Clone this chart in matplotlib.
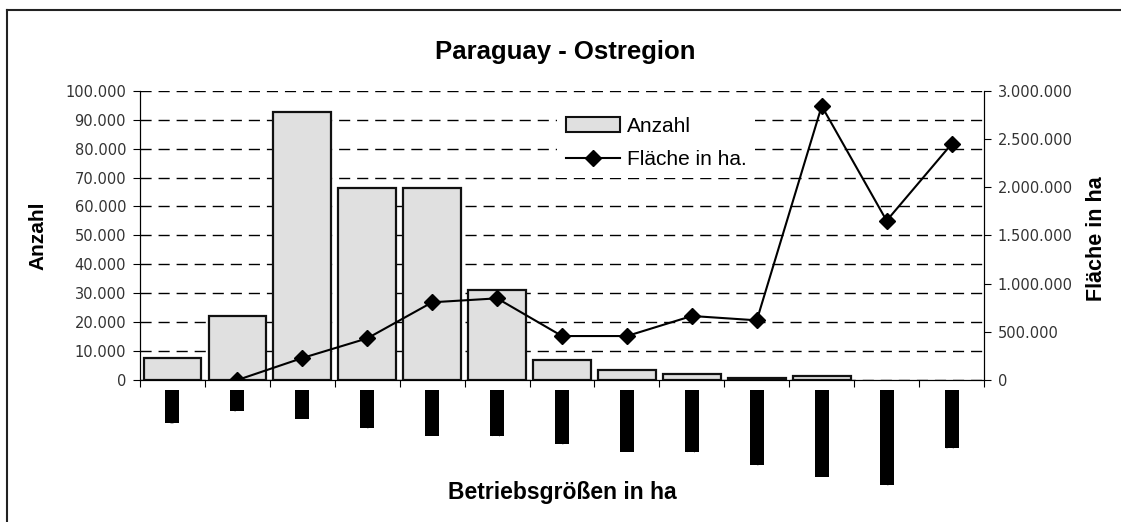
import matplotlib.pyplot as plt
import matplotlib.ticker as mticker
from matplotlib.lines import Line2D
from matplotlib.patches import Patch
import numpy as np

# Betriebsgrößenklassen (Beschriftungen im Original nur als schwarze Balken sichtbar)
klassen = ["ohne", "< 1", "1 - 5", "5 - 10", "10 - 20", "20 - 50", "50 - 100",
           "100 - 200", "200 - 500", "500 - 1.000", "1.000 - 5.000",
           "5.000 - 10.000", "> 10.000"]
anzahl = [7500, 22200, 92700, 66400, 66400, 31100, 6900, 3600, 2000, 800, 1500, 0, 0]
flaeche = [np.nan, 0, 228000, 432000, 806000, 847000, 456000, 456000, 664000,
           619000, 2841000, 1652000, 2447000]

plt.rcParams['font.family'] = ['Liberation Sans', 'DejaVu Sans']

def punkt_format(v, pos):
    return f"{int(round(v)):,}".replace(",", ".")

fig = plt.figure(figsize=(11.21, 5.22), dpi=100)
ax1 = fig.add_axes([0.1249, 0.2720, 0.7529, 0.5542])
ax2 = ax1.twinx()

x = np.arange(len(klassen))
hat_balken = np.array(anzahl) > 0
ax1.bar(x[hat_balken], np.array(anzahl)[hat_balken], width=0.89, color='#e0e0e0',
        edgecolor='#111111', linewidth=1.6, zorder=2)
ax2.plot(x, flaeche, color='black', lw=1.5, marker='D', markersize=8, zorder=3)

ax1.set_xlim(-0.5, len(klassen) - 0.5)
ax1.set_ylim(0, 100000)
ax2.set_ylim(0, 3000000)
ax1.yaxis.set_major_locator(mticker.MultipleLocator(10000))
ax2.yaxis.set_major_locator(mticker.MultipleLocator(500000))
ax1.yaxis.set_major_formatter(mticker.FuncFormatter(punkt_format))
ax2.yaxis.set_major_formatter(mticker.FuncFormatter(punkt_format))

ax1.set_axisbelow(True)
ax1.grid(axis='y', color='black', linestyle=(0, (8, 5)), linewidth=1)

# Kategoriengrenzen als Ticks, Beschriftung separat
ax1.set_xticks(np.arange(len(klassen) + 1) - 0.5)
ax1.set_xticklabels([])
ax1.tick_params(axis='x', length=5, direction='out', color='black')
for ax in (ax1, ax2):
    ax.tick_params(axis='y', length=5, labelsize=10.5, labelcolor='#333333', pad=5)
    ax.spines['top'].set_visible(False)
    for s in ('left', 'right', 'bottom'):
        ax.spines[s].set_color('black')
for lab in ax1.get_yticklabels() + ax2.get_yticklabels():
    lab.set_family('DejaVu Sans')

for i, k in enumerate(klassen):
    ax1.annotate(k, xy=(i, 0), xycoords='data', xytext=(0, -10), textcoords='offset pixels',
                 rotation=90, ha='center', va='top', fontsize=10.5, color='black',
                 bbox=dict(boxstyle='square,pad=0', fc='black', ec='none'))

fig.text(565 / 1121, 1 - 52 / 522, "Paraguay - Ostregion", ha='center', va='center',
         fontsize=18.5, fontweight='bold')
fig.text(38 / 1121, 1 - 236 / 522, "Anzahl", ha='center', va='center', rotation=90,
         fontsize=15, fontweight='bold')
fig.text(1096 / 1121, 1 - 239 / 522, "Fläche in ha", ha='center', va='center', rotation=90,
         fontsize=15.5, fontweight='bold')
fig.text(562 / 1121, 1 - 493 / 522, "Betriebsgrößen in ha", ha='center', va='center',
         fontsize=16.5, fontweight='bold')

handles = [Patch(facecolor='#e0e0e0', edgecolor='#111111', linewidth=1.5),
           Line2D([], [], color='black', lw=1.5, marker='D', markersize=8)]
leg = ax2.legend(handles, ["Anzahl", "Fläche in ha."], loc='upper left',
                 bbox_to_anchor=(547 / 1121, 1 - 98 / 522), bbox_transform=fig.transFigure,
                 fontsize=15, frameon=True, fancybox=False, framealpha=1,
                 edgecolor='white', facecolor='white', handlelength=2.6,
                 handletextpad=0.34, labelspacing=0.7, borderpad=0.4)
leg.get_frame().set_linewidth(0)
leg.set_zorder(5)

# Rahmen links und oben
fig.add_artist(Line2D([7 / 1121, 7 / 1121], [0, 1 - 10 / 522], color='#222222', lw=1.5,
                      transform=fig.transFigure))
fig.add_artist(Line2D([7 / 1121, 1], [1 - 10 / 522, 1 - 10 / 522], color='#222222', lw=1.5,
                      transform=fig.transFigure))

fig.savefig("out.png", dpi=100)
